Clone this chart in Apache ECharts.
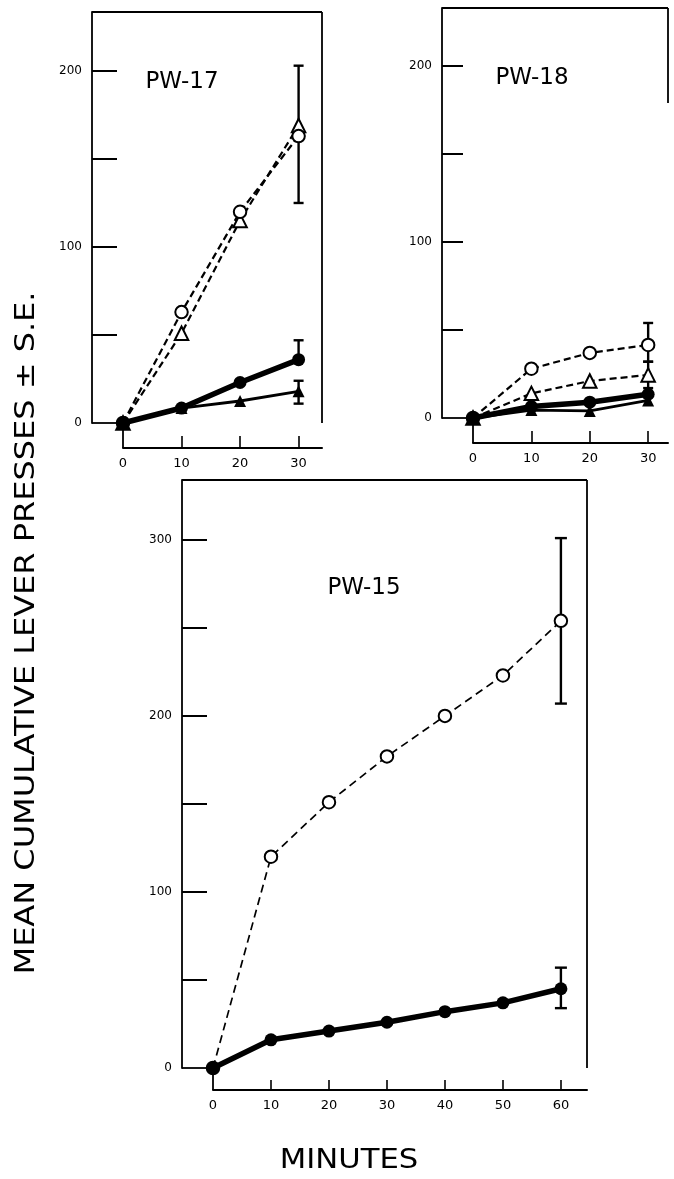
<!DOCTYPE html>
<html><head><meta charset="utf-8">
<script src="https://cdn.jsdelivr.net/npm/echarts@6/dist/echarts.min.js"></script>
<style>html,body{margin:0;padding:0;background:#fff}#c{width:674px;height:1179px}</style>
</head><body><div id="c"></div>
<script>
// ---------- data ----------
const minutes30 = [0, 10, 20, 30];
const minutes60 = [0, 10, 20, 30, 40, 50, 60];

const pw17OpenCircle    = [0, 63, 120, 163];
const pw17OpenTriangle  = [0, 51, 115, 169];
const pw17FilledCircle  = [0, 8.5, 23, 36];
const pw17FilledTriangle= [0, 8.5, 12.5, 18];
const pw17ErrX    = [30, 30, 30];
const pw17ErrLow  = [125, 36, 11];
const pw17ErrHigh = [203, 47, 24];

const pw18OpenCircle    = [0, 28, 37, 41.5];
const pw18OpenTriangle  = [0, 14, 21, 24.5];
const pw18FilledCircle  = [0, 6.5, 9, 13.5];
const pw18FilledTriangle= [0, 4.5, 4, 10];
const pw18ErrX    = [30, 30];
const pw18ErrLow  = [32, 17];
const pw18ErrHigh = [54, 32];

const pw15OpenCircle   = [0, 120, 151, 177, 200, 223, 254];
const pw15FilledCircle = [0, 16, 21, 26, 32, 37, 45];
const pw15ErrX    = [60, 60];
const pw15ErrLow  = [207, 34];
const pw15ErrHigh = [301, 57];

const yTicks30 = [50, 100, 150, 200];
const yLabels30 = [0, 100, 200];
const xTicks30 = [10, 20, 30];
const xLabels30 = [0, 10, 20, 30];
const yTicks60 = [50, 100, 150, 200, 250, 300];
const yLabels60 = [0, 100, 200, 300];
const xTicks60 = [10, 20, 30, 40, 50, 60];
const xLabels60 = [0, 10, 20, 30, 40, 50, 60];

const titles = ['PW-17', 'PW-18', 'PW-15'];
const yTitle = 'MEAN CUMULATIVE LEVER PRESSES ± S.E.';
const xTitle = 'MINUTES';

// ---------- layout / style ----------
const FONT = '"DejaVu Sans", sans-serif';
const panels = [
  {grid:{left:123, top:12, width:199, height:411}, xMax:34, yMax:233.5, yOff:31, xOff:25, yTickLen:25, xTickLen:12,
   yTicks:yTicks30, yLabels:yLabels30, xTicks:xTicks30, xLabels:xLabels30, rightTo:0, title:[182, 82]},
  {grid:{left:473, top:8, width:195, height:410}, xMax:33.4, yMax:233, yOff:31, xOff:25, yTickLen:21, xTickLen:12,
   yTicks:yTicks30, yLabels:yLabels30, xTicks:xTicks30, xLabels:xLabels30, rightTo:179, title:[532, 78]},
  {grid:{left:213, top:480, width:374, height:588}, xMax:64.5, yMax:334, yOff:31, xOff:22, yTickLen:25, xTickLen:10,
   yTicks:yTicks60, yLabels:yLabels60, xTicks:xTicks60, xLabels:xLabels60, rightTo:0, title:[364, 588]}
];

function zip(xs, ys){ return xs.map((x,i)=>[x, ys[i]]); }
function errData(xs, lo, hi){ return xs.map((x,i)=>[x, lo[i], hi[i]]); }

function lineSeries(idx, xs, ys, kind, dash){
  const s = {type:'line', xAxisIndex:idx, yAxisIndex:idx, data:zip(xs, ys), clip:false, z:3,
    animation:false, symbolSize:12, silent:true};
  if (kind === 'openCircle' || kind === 'openTriangle'){
    s.symbol = kind === 'openCircle' ? 'circle' : 'triangle';
    s.symbolSize = kind === 'openCircle' ? 12.5 : 13.5;
    s.lineStyle = {color:'#000', width: dash.w, type: dash.p};
    s.itemStyle = {color:'#fff', borderColor:'#000', borderWidth:2};
  } else if (kind === 'filledCircle'){
    s.symbol = 'circle'; s.symbolSize = 13; s.z = 5;
    s.lineStyle = {color:'#000', width:5.5};
    s.itemStyle = {color:'#000'};
  } else {
    s.symbol = 'triangle'; s.symbolSize = 12; s.z = 4;
    s.lineStyle = {color:'#000', width:2.8};
    s.itemStyle = {color:'#000'};
  }
  return s;
}

function errSeries(idx, data, cap){
  return {type:'custom', xAxisIndex:idx, yAxisIndex:idx, data:data, z:1, clip:false, silent:true, animation:false,
    renderItem:function(params, api){
      const x = api.value(0), lo = api.value(1), hi = api.value(2);
      const p1 = api.coord([x, lo]), p2 = api.coord([x, hi]);
      const st = {stroke:'#000', lineWidth:2.4};
      return {type:'group', children:[
        {type:'line', shape:{x1:p1[0], y1:p1[1], x2:p2[0], y2:p2[1]}, style:st},
        {type:'line', shape:{x1:p1[0]-cap, y1:p1[1], x2:p1[0]+cap, y2:p1[1]}, style:st},
        {type:'line', shape:{x1:p2[0]-cap, y1:p2[1], x2:p2[0]+cap, y2:p2[1]}, style:st}
      ]};
    }};
}

const grids = [], xAxes = [], yAxes = [];
panels.forEach((p, i)=>{
  grids.push(Object.assign({containLabel:false}, p.grid));
  xAxes.push({type:'value', gridIndex:i, min:0, max:p.xMax, interval:10, offset:p.xOff, position:'bottom',
    axisLine:{show:true, onZero:false, lineStyle:{color:'#000', width:2}},
    axisTick:{show:true, inside:true, length:p.xTickLen, customValues:p.xTicks, lineStyle:{color:'#000', width:1.6}},
    axisLabel:{show:true, customValues:p.xLabels, color:'#000', fontSize:13, fontFamily:FONT, margin:9},
    splitLine:{show:false}});
  yAxes.push({type:'value', gridIndex:i, min:0, max:p.yMax, interval:50, offset:p.yOff, position:'left',
    axisLine:{show:true, onZero:false, lineStyle:{color:'#000', width:1.8}},
    axisTick:{show:true, inside:true, length:p.yTickLen, customValues:p.yTicks, lineStyle:{color:'#000', width:2}},
    axisLabel:{show:true, customValues:p.yLabels, color:'#000', fontSize:12, fontFamily:FONT, margin:10},
    splitLine:{show:false}});
});

const dash17 = {w:2.2, p:[7,4]}, dash18 = {w:2.2, p:[7,4]}, dash15 = {w:1.7, p:[8,5]};
const series = [
  errSeries(0, errData(pw17ErrX, pw17ErrLow, pw17ErrHigh), 5),
  lineSeries(0, minutes30, pw17OpenTriangle, 'openTriangle', dash17),
  lineSeries(0, minutes30, pw17OpenCircle, 'openCircle', dash17),
  lineSeries(0, minutes30, pw17FilledTriangle, 'filledTriangle'),
  lineSeries(0, minutes30, pw17FilledCircle, 'filledCircle'),

  errSeries(1, errData(pw18ErrX, pw18ErrLow, pw18ErrHigh), 5),
  lineSeries(1, minutes30, pw18OpenTriangle, 'openTriangle', dash18),
  lineSeries(1, minutes30, pw18OpenCircle, 'openCircle', dash18),
  lineSeries(1, minutes30, pw18FilledTriangle, 'filledTriangle'),
  lineSeries(1, minutes30, pw18FilledCircle, 'filledCircle'),

  errSeries(2, errData(pw15ErrX, pw15ErrLow, pw15ErrHigh), 6),
  lineSeries(2, minutes60, pw15OpenCircle, 'openCircle', dash15),
  lineSeries(2, minutes60, pw15FilledCircle, 'filledCircle')
];

const chart = echarts.init(document.getElementById('c'), null, {renderer:'canvas'});
chart.setOption({backgroundColor:'#fff', animation:false, grid:grids, xAxis:xAxes, yAxis:yAxes, series:series});

// frame lines and texts, positioned through the axes' own scales
const graphics = [];
const frameStyle = {stroke:'#000', lineWidth:1.8};
panels.forEach((p, i)=>{
  const o = chart.convertToPixel({gridIndex:i}, [0, 0]);
  const tr = chart.convertToPixel({gridIndex:i}, [p.xMax, p.yMax]);
  const rb = chart.convertToPixel({gridIndex:i}, [p.xMax, p.rightTo]);
  const boxLeft = o[0] - p.yOff;
  const xAxisY = o[1] + p.xOff;
  graphics.push({type:'line', silent:true, shape:{x1:boxLeft, y1:tr[1], x2:tr[0], y2:tr[1]}, style:frameStyle});
  graphics.push({type:'line', silent:true, shape:{x1:tr[0], y1:tr[1], x2:tr[0], y2:rb[1]}, style:frameStyle});
  graphics.push({type:'line', silent:true, shape:{x1:boxLeft, y1:o[1], x2:o[0], y2:o[1]}, style:frameStyle});
  graphics.push({type:'line', silent:true, shape:{x1:o[0], y1:o[1], x2:o[0], y2:xAxisY}, style:frameStyle});
  graphics.push({type:'text', silent:true, x:p.title[0], y:p.title[1],
    style:{text:titles[i], font:'500 23px ' + FONT, fill:'#000', align:'center', verticalAlign:'middle',
      textAlign:'center', textVerticalAlign:'middle'}});
});
graphics.push({type:'text', silent:true, x:27, y:633, rotation:Math.PI/2, scaleX:1.23,
  style:{text:yTitle, font:'26px ' + FONT, fill:'#000', align:'center', verticalAlign:'middle',
    textAlign:'center', textVerticalAlign:'middle'}});
graphics.push({type:'text', silent:true, x:349, y:1161, scaleX:1.18,
  style:{text:xTitle, font:'26px ' + FONT, fill:'#000', align:'center', verticalAlign:'middle',
    textAlign:'center', textVerticalAlign:'middle'}});
chart.setOption({graphic:{elements:graphics}});
</script>
</body></html>
